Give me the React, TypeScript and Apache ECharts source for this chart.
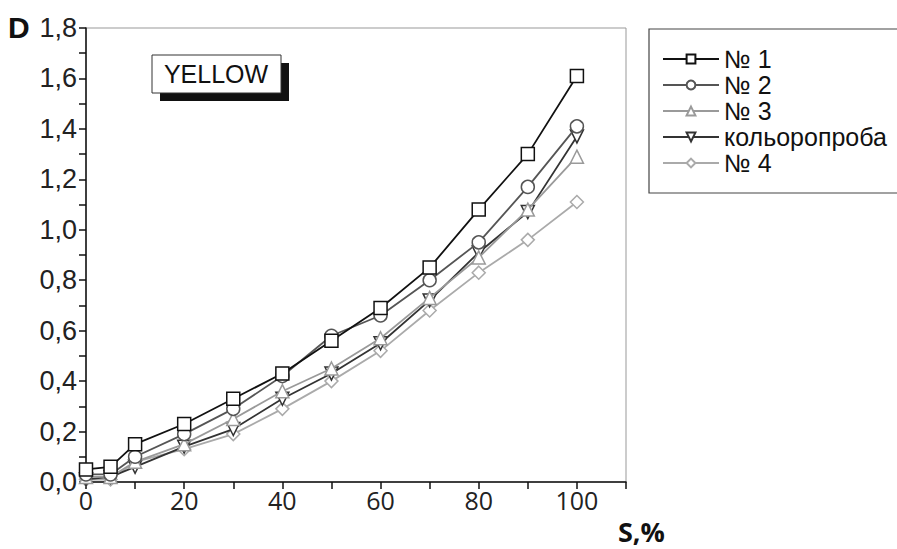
import React, { useEffect, useRef } from "react";
import * as echarts from "echarts";

const xValues = [0, 5, 10, 20, 30, 40, 50, 60, 70, 80, 90, 100];
const seriesNames = ["№ 1", "№ 2", "№ 3", "кольоропроба", "№ 4"];
const s1 = [0.05, 0.06, 0.15, 0.23, 0.33, 0.43, 0.56, 0.69, 0.85, 1.08, 1.3, 1.61];
const s2 = [0.03, 0.03, 0.1, 0.19, 0.29, 0.42, 0.58, 0.66, 0.8, 0.95, 1.17, 1.41];
const s3 = [0.02, 0.02, 0.08, 0.15, 0.25, 0.36, 0.45, 0.57, 0.73, 0.89, 1.08, 1.29];
const s4 = [0.01, 0.02, 0.06, 0.14, 0.21, 0.33, 0.43, 0.55, 0.72, 0.91, 1.07, 1.37];
const s5 = [0.01, 0.01, 0.08, 0.13, 0.19, 0.29, 0.4, 0.52, 0.68, 0.83, 0.96, 1.11];
const seriesValues = [s1, s2, s3, s4, s5];
const colors = ["#111111", "#555555", "#9a9a9a", "#333333", "#aaaaaa"];
const symbols = ["rect", "circle", "triangle", "triangle", "diamond"];
const rotations = [0, 0, 0, 180, 0];

export default function App() {
  const ref = useRef<HTMLDivElement>(null);
  useEffect(() => {
    if (!ref.current) return;
    const chart = echarts.init(ref.current, undefined, { renderer: "svg" });
    const font = "'Liberation Sans', Arial, sans-serif";
    chart.setOption({
      animation: false,
      backgroundColor: "#ffffff",
      grid: {
        left: 86,
        right: 271,
        top: 28,
        bottom: 67,
        show: true,
        borderColor: "#999999",
        borderWidth: 1,
      },
      xAxis: {
        type: "value",
        min: 0,
        max: 110,
        interval: 10,
        axisLine: { show: true, lineStyle: { color: "#111", width: 1.5 } },
        axisTick: { show: true, length: 7, lineStyle: { color: "#111", width: 1.5 } },
        splitLine: { show: false },
        axisLabel: {
          color: "#222",
          fontSize: 25,
          fontFamily: "'Open Sans', sans-serif",
          margin: 5,
          formatter: (v: number) => (Math.round(v) % 20 === 0 && v <= 100 ? String(Math.round(v)) : ""),
        },
      },
      yAxis: {
        type: "value",
        min: 0,
        max: 1.8,
        interval: 0.1,
        axisLine: { show: true, lineStyle: { color: "#111", width: 1.5 } },
        axisTick: { show: true, length: 7, lineStyle: { color: "#111", width: 1.5 } },
        splitLine: { show: false },
        axisLabel: {
          color: "#222",
          fontSize: 27,
          fontFamily: font,
          margin: 9,
          formatter: (v: number) => {
            const k = Math.round(v * 10);
            return k % 2 === 0 ? (k / 10).toFixed(1).replace(".", ",") : "";
          },
        },
      },
      legend: {
        orient: "vertical",
        left: 662,
        top: 46,
        itemWidth: 56,
        itemHeight: 11,
        itemGap: 0,
        padding: 0,
        textStyle: { fontSize: 25, fontFamily: font, color: "#111", lineHeight: 26, padding: [0, 0, 0, 0] },
        data: seriesNames,
      },
      graphic: [
        { type: "rect", shape: { x: 649, y: 29, width: 260, height: 164 }, style: { fill: "none", stroke: "#444", lineWidth: 1.2 } },
        { type: "rect", shape: { x: 160, y: 63, width: 129, height: 38 }, style: { fill: "#111" } },
        { type: "rect", shape: { x: 152, y: 55, width: 129, height: 38 }, style: { fill: "#fff", stroke: "#333", lineWidth: 1 } },
        {
          type: "text",
          x: 216,
          y: 74,
          style: { text: "YELLOW", fontSize: 25, fontFamily: font, fill: "#111", align: "center", verticalAlign: "middle" },
        },
        {
          type: "text",
          x: 8,
          y: 27,
          style: { text: "D", fontSize: 30, fontWeight: "bold", fontFamily: font, fill: "#111", verticalAlign: "middle" },
        },
        {
          type: "text",
          x: 618,
          y: 531,
          style: { text: "S,%", fontSize: 27, fontWeight: "bold", fontFamily: "'Open Sans', sans-serif", fill: "#111", verticalAlign: "middle" },
        },
      ],
      series: seriesNames.map((name, i) => ({
        name,
        type: "line",
        data: xValues.map((x, j) => [x, seriesValues[i][j]]),
        symbol: symbols[i],
        symbolRotate: rotations[i],
        symbolSize: 13,
        showAllSymbol: true,
        lineStyle: { color: colors[i], width: 1.8 },
        itemStyle: { color: "#ffffff", borderColor: colors[i], borderWidth: 1.5 },
        z: 10 - i,
      })),
    });
    return () => chart.dispose();
  }, []);
  return <div ref={ref} style={{ width: 897, height: 549, position: "absolute", left: 0, top: 0 }} />;
}
